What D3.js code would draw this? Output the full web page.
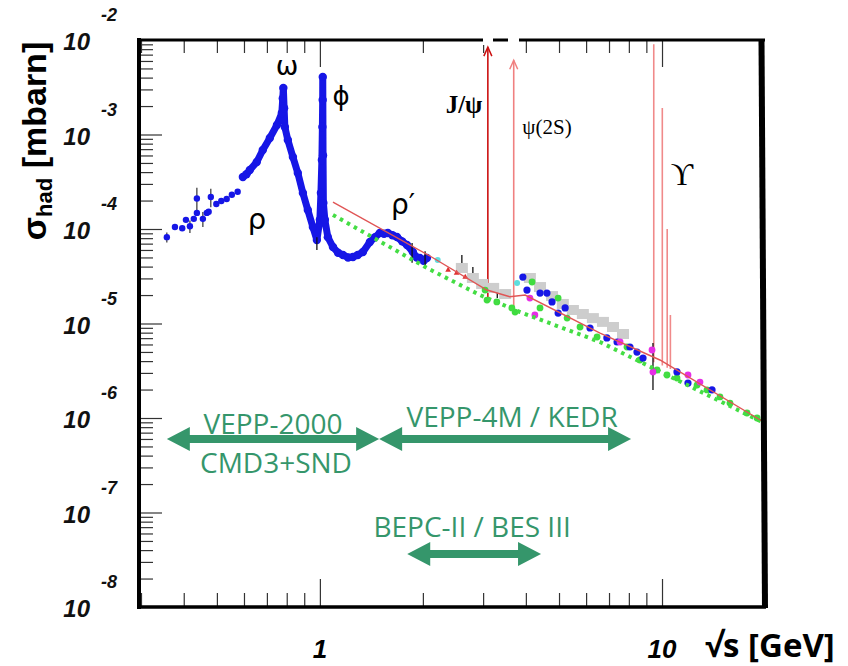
<!DOCTYPE html>
<html>
<head>
<meta charset="utf-8">
<script src="https://cdn.jsdelivr.net/npm/d3@7"></script>
<style>
  body { margin: 0; background: #fff; }
  svg { font-family: "Liberation Sans", Arial, sans-serif; }
</style>
</head>
<body>
<svg id="chart" width="848" height="666"></svg>
<script>
// sqrt(s) in GeV, sigma in mbarn
const lowE     = [0.357, 0.377, 0.396, 0.406, 0.417, 0.428, 0.437, 0.437, 0.455, 0.467, 0.473, 0.480, 0.498, 0.515, 0.534, 0.553, 0.575]
const lowSigma = [8.2e-5, 1.05e-4, 1.02e-4, 1.25e-4, 1.07e-4, 1.28e-4, 1.48e-4, 2.1e-4, 1.28e-4, 1.48e-4, 1.52e-4, 2.18e-4, 1.84e-4, 1.98e-4, 2.08e-4, 2.3e-4, 2.48e-4]
const lowErr   = [0.12, 0, 0, 0, 0.15, 0, 0, 0.3, 0.18, 0, 0, 0.22, 0, 0, 0, 0, 0]

const resE     = [0.5955, 0.610, 0.624, 0.654, 0.681, 0.714, 0.749, 0.774, 0.779, 0.782, 0.786, 0.790, 0.806, 0.834, 0.862, 0.892, 0.922, 0.954, 0.980,
                  1.000, 1.007, 1.0136, 1.017, 1.019, 1.0195, 1.0215, 1.0238, 1.034, 1.055, 1.092, 1.130, 1.168, 1.209, 1.249, 1.290, 1.336, 1.400,
                  1.450, 1.497, 1.540, 1.580, 1.630, 1.680, 1.740, 1.797, 1.870, 1.920, 1.960, 2.010, 2.055]
const resSigma = [3.55e-4, 3.8e-4, 4.21e-4, 5.12e-4, 6.86e-4, 9.18e-4, 1.26e-3, 1.69e-3, 2.4e-3, 3.1e-3, 1.9e-3, 1.2e-3, 8.75e-4, 5.78e-4, 3.92e-4, 2.4e-4, 1.59e-4, 1.05e-4, 7.65e-5,
                  1.25e-4, 2.4e-4, 5.37e-4, 1.2e-3, 2.32e-3, 4.07e-3, 6e-4, 1.88e-4, 1.25e-4, 8.2e-5, 6.45e-5, 5.6e-5, 5.31e-5, 5.0e-5, 5.06e-5, 5.3e-5, 5.71e-5, 7.28e-5,
                  8.2e-5, 9.08e-5, 8.9e-5, 9.08e-5, 8.6e-5, 8.22e-5, 7.4e-5, 6.78e-5, 5.71e-5, 5.0e-5, 4.93e-5, 4.6e-5, 4.93e-5]

const grayE     = [2.60, 2.80, 2.98, 3.21, 3.48, 4.11, 4.40, 4.77, 5.13, 5.49, 5.87, 6.28, 6.72, 7.19, 7.69]
const graySigma = [3.87e-5, 3.03e-5, 2.62e-5, 2.38e-5, 2.05e-5, 3.03e-5, 2.43e-5, 1.95e-5, 1.61e-5, 1.39e-5, 1.26e-5, 1.14e-5, 1.04e-5, 9.18e-6, 7.74e-6]

const greenE     = [3.04, 3.08, 3.29, 3.64, 3.72, 4.17, 4.40, 4.97, 5.28, 5.76, 6.46, 7.90, 8.62, 9.67, 10.34, 11.06, 12.66, 13.54, 14.77, 15.80, 17.72, 18.96]
const greenSigma = [2.26e-5, 1.77e-5, 1.69e-5, 1.46e-5, 1.32e-5, 2.75e-5, 1.46e-5, 1.86e-5, 1.14e-5, 9.18e-6, 7.2e-6, 5.64e-6, 4.11e-6, 3.22e-6, 2.85e-6, 2.65e-6, 2.23e-6, 1.98e-6, 1.67e-6, 1.44e-6, 1.13e-6, 1.0e-6]

const blueE     = [3.92, 4.03, 4.40, 4.61, 4.77, 4.97, 5.21, 6.16, 6.90, 7.39, 8.06, 8.45, 8.80, 11.06, 11.91, 14.0]
const blueSigma = [3.1e-5, 2.26e-5, 2.1e-5, 2.1e-5, 1.69e-5, 1.29e-5, 1.46e-5, 8.96e-6, 7.03e-6, 6.37e-6, 5.64e-6, 4.99e-6, 4.31e-6, 3.07e-6, 2.34e-6, 1.98e-6]

const magentaE     = [4.11, 4.25, 7.54, 9.35, 9.41, 11.91, 12.91]
const magentaSigma = [1.86e-5, 1.23e-5, 6.37e-6, 5.24e-6, 3.07e-6, 2.85e-6, 2.4e-6]

const cyanE     = [2.21, 3.77]
const cyanSigma = [4.7e-5, 2.68e-5]

const redPtE     = [2.37, 2.51, 2.66]
const redPtSigma = [3.68e-5, 3.42e-5, 3.1e-5]

const barE  = [0.980, 1.86, 2.03, 2.60, 2.80, 3.30, 9.41]
const barLo = [6.0e-5, 4.4e-5, 3.9e-5, 3.51e-5, 2.69e-5, 1.86e-5, 1.98e-6]
const barHi = [8.2e-5, 7.1e-5, 5.8e-5, 5.31e-5, 3.96e-5, 2.62e-5, 6.22e-6]

const qcdE     = [1.092, 2.097, 3.078, 3.59, 3.98, 6.59, 9.86, 19.6]
const qcdSigma = [1.93e-4, 5.18e-5, 2.26e-5, 1.92e-5, 2.0e-5, 7.93e-6, 4.11e-6, 9.3e-7]

const dotE     = [1.092, 2.055, 2.937, 3.85, 6.59, 19.6]
const dotSigma = [1.41e-4, 3.87e-5, 2.0e-5, 1.32e-5, 6.37e-6, 9.1e-7]

const upsE    = [9.46, 10.02, 10.355, 10.58]
const upsTop  = [9e-3, 1.91e-3, 1.0e-4, 1.23e-5]
const upsBase = [3.9e-6, 3.6e-6, 3.4e-6, 3.3e-6]

const psiE    = [3.097, 3.686]
const psiTop  = [8.4e-3, 6.1e-3]
const psiBase = [1.9e-5, 1.5e-5]
const psiColor = ['#cc1111', '#f08080']

const facilityNames = ['VEPP-2000', 'VEPP-4M / KEDR', 'BEPC-II / BES III']
const facilityFrom  = [0.357, 1.49, 1.80]
const facilityTo    = [1.49, 8.12, 4.43]
const facilityLevel = [6.0e-7, 6.0e-7, 3.64e-8]

const xMajor = [1, 10]
const xMinor = [0.3, 0.4, 0.5, 0.6, 0.7, 0.8, 0.9, 2, 3, 4, 5, 6, 7, 8, 9]
const xLabels = ['1', '10']
const yExps = [-2, -3, -4, -5, -6, -7, -8]
const yMantissas = [2, 3, 4, 5, 6, 7, 8, 9]

const svg = d3.select('#chart')
const x = d3.scaleLog().domain([0.296, 20]).range([139, 765])
const y = d3.scaleLog().domain([1e-8, 1e-2]).range([607, 40])
const green = '#35966b'
const blue = '#1616e6'

const zip = (a, b) => a.map((v, i) => [v, b[i]])

// resonance spikes
svg.append('g').selectAll('line')
  .data(upsE)
  .join('line')
    .attr('x1', d => x(d)).attr('x2', d => x(d))
    .attr('y1', (d, i) => y(upsBase[i])).attr('y2', (d, i) => y(upsTop[i]))
    .attr('stroke', '#f08a8a').attr('stroke-width', 1.6)

const psi = svg.append('g').selectAll('g')
  .data(psiE)
  .join('g')
psi.append('line')
  .attr('x1', d => x(d)).attr('x2', d => x(d))
  .attr('y1', (d, i) => y(psiBase[i])).attr('y2', (d, i) => y(psiTop[i]))
  .attr('stroke', (d, i) => psiColor[i]).attr('stroke-width', 1.6)
psi.append('path')
  .attr('d', (d, i) => `M${x(d) - 4},${y(psiTop[i]) + 9}L${x(d)},${y(psiTop[i])}L${x(d) + 4},${y(psiTop[i]) + 9}`)
  .attr('fill', 'none')
  .attr('stroke', (d, i) => psiColor[i]).attr('stroke-width', 1.5)

// blue band rho / omega / phi / rho'
const bandLine = d3.line().x(d => x(d[0])).y(d => y(d[1]))
svg.append('path')
  .attr('d', bandLine(zip(resE, resSigma)))
  .attr('fill', 'none').attr('stroke', blue)
  .attr('stroke-width', 7).attr('stroke-linejoin', 'round').attr('stroke-linecap', 'round')
svg.append('g').selectAll('circle')
  .data(zip(resE, resSigma))
  .join('circle')
    .attr('cx', d => x(d[0])).attr('cy', d => y(d[1])).attr('r', 4.2)
    .attr('fill', blue)

// error bars
svg.append('g').selectAll('line')
  .data(barE)
  .join('line')
    .attr('x1', d => x(d)).attr('x2', d => x(d))
    .attr('y1', (d, i) => y(barLo[i])).attr('y2', (d, i) => y(barHi[i]))
    .attr('stroke', '#111').attr('stroke-width', 1.3)

const low = svg.append('g')
low.selectAll('line')
  .data(lowE.map((e, i) => [e, lowSigma[i], lowErr[i]]).filter(d => d[2] > 0))
  .join('line')
    .attr('x1', d => x(d[0])).attr('x2', d => x(d[0]))
    .attr('y1', d => y(d[1] * (1 - d[2]))).attr('y2', d => y(d[1] * (1 + d[2])))
    .attr('stroke', '#222').attr('stroke-width', 1.1)
low.selectAll('circle')
  .data(zip(lowE, lowSigma))
  .join('circle')
    .attr('cx', d => x(d[0])).attr('cy', d => y(d[1])).attr('r', 3.2)
    .attr('fill', blue)

// high energy data
svg.append('g').selectAll('rect')
  .data(zip(grayE, graySigma))
  .join('rect')
    .attr('x', d => x(d[0]) - 6).attr('y', d => y(d[1]) - 5)
    .attr('width', 12).attr('height', 10)
    .attr('fill', '#cdcdcd')

const dots = (es, ss, color, r) => svg.append('g').selectAll('circle')
  .data(zip(es, ss))
  .join('circle')
    .attr('cx', d => x(d[0])).attr('cy', d => y(d[1])).attr('r', r)
    .attr('fill', color)

dots(greenE, greenSigma, '#3fdc3f', 3.4)
dots(blueE, blueSigma, blue, 3.6)
dots(magentaE, magentaSigma, '#e62ee6', 3.4)
dots(cyanE, cyanSigma, '#5fdede', 3)

svg.append('g').selectAll('path')
  .data(zip(redPtE, redPtSigma))
  .join('path')
    .attr('d', d3.symbol(d3.symbolTriangle, 14))
    .attr('transform', d => `translate(${x(d[0])},${y(d[1])})`)
    .attr('fill', '#e03030')

// QCD line and dotted estimate
svg.append('path')
  .attr('d', bandLine(zip(dotE, dotSigma)))
  .attr('fill', 'none').attr('stroke', '#44dd44')
  .attr('stroke-width', 4).attr('stroke-dasharray', '3.5,4.5')
svg.append('path')
  .attr('d', bandLine(zip(qcdE, qcdSigma)))
  .attr('fill', 'none').attr('stroke', '#e05555').attr('stroke-width', 1.4)

// axes
const ticks = (axis, values, size, tx, ty) => svg.append('g')
  .attr('transform', `translate(${tx},${ty})`)
  .call(axis.tickValues(values).tickSize(size).tickFormat(''))
  .call(g => g.select('.domain').remove())
  .call(g => g.selectAll('line').attr('stroke', '#333').attr('stroke-width', 1.2))

const yMinor = yExps.slice(1).flatMap(e => yMantissas.map(m => m * Math.pow(10, e)))
const yMajor = yExps.map(e => Math.pow(10, e))

ticks(d3.axisTop(x), xMinor, 14, 0, 607)
ticks(d3.axisTop(x), xMajor, 28, 0, 607)
ticks(d3.axisBottom(x), xMinor, 13, 0, 40)
ticks(d3.axisBottom(x), xMajor, 27, 0, 40)
ticks(d3.axisRight(y), yMinor, 14, 139, 0)
ticks(d3.axisRight(y), yMajor.slice(1, -1), 23, 139, 0)

// white gaps on the top frame where the arrows cross it
svg.append('g').selectAll('rect')
  .data(psiE)
  .join('rect')
    .attr('x', d => x(d) - 5).attr('y', 36).attr('width', 10).attr('height', 9)
    .attr('fill', '#fff')

const frame = svg.append('g').attr('stroke', '#000')
frame.append('line').attr('x1', 139).attr('x2', 139).attr('y1', 38).attr('y2', 609).attr('stroke-width', 4)
frame.append('line').attr('x1', 137).attr('x2', 766).attr('y1', 607).attr('y2', 607).attr('stroke-width', 3.5)
frame.append('line').attr('x1', 137).attr('x2', 483).attr('y1', 40).attr('y2', 40).attr('stroke-width', 3)
frame.append('line').attr('x1', 493).attr('x2', 508).attr('y1', 40).attr('y2', 40).attr('stroke-width', 3)
frame.append('line').attr('x1', 519).attr('x2', 765).attr('y1', 40).attr('y2', 40).attr('stroke-width', 3)
frame.append('line').attr('x1', 761.5).attr('x2', 765).attr('y1', 40).attr('y2', 608).attr('stroke-width', 6)

// tick labels
const yl = svg.append('g').attr('font-weight', 'bold').attr('font-style', 'italic').attr('fill', '#111')
yl.selectAll('text.base')
  .data(yExps)
  .join('text')
    .attr('class', 'base')
    .attr('x', 90).attr('y', d => y(Math.pow(10, d)) + 10)
    .attr('text-anchor', 'end').attr('font-size', 24)
    .text('10')
yl.selectAll('text.exp')
  .data(yExps)
  .join('text')
    .attr('class', 'exp')
    .attr('x', 101).attr('y', d => y(Math.pow(10, d)) - 19)
    .attr('font-size', 18)
    .text(d => d)

svg.append('g').selectAll('text')
  .data(xMajor)
  .join('text')
    .attr('x', d => x(d)).attr('y', 658)
    .attr('text-anchor', 'middle')
    .attr('font-size', 26).attr('font-weight', 'bold').attr('font-style', 'italic')
    .text((d, i) => xLabels[i])

svg.append('text')
  .attr('x', 705).attr('y', 657)
  .attr('font-size', 33).attr('font-weight', 'bold')
  .style('font-family', '"Open Sans", "DejaVu Sans", sans-serif')
  .text('√s [GeV]')

const yTitle = svg.append('text')
  .attr('transform', 'translate(46,141) rotate(-90)')
  .attr('text-anchor', 'middle')
  .attr('font-size', 34).attr('font-weight', 'bold')
yTitle.append('tspan').text('σ')
yTitle.append('tspan').attr('font-size', 22).attr('dy', 6).text('had')
yTitle.append('tspan').attr('dy', -6).text(' [mbarn]')

// particle labels
const sans = '"DejaVu Sans", sans-serif'
const serif = '"Liberation Serif", "DejaVu Serif", serif'
const particles = [
  { t: 'ω', x: 287, y: 75, size: 27, font: sans },
  { t: 'ϕ', x: 341, y: 105, size: 26, font: sans },
  { t: 'ρ', x: 257, y: 229, size: 29, font: sans },
  { t: 'ρ′', x: 403, y: 214, size: 28, font: sans },
  { t: 'J/ψ', x: 464, y: 113, size: 25, font: serif, bold: true },
  { t: 'ψ(2S)', x: 547, y: 134, size: 21, font: serif },
  { t: 'ϒ', x: 682, y: 185, size: 31, font: serif }
]
svg.append('g').selectAll('text')
  .data(particles)
  .join('text')
    .attr('x', d => d.x).attr('y', d => d.y)
    .attr('text-anchor', 'middle')
    .attr('font-size', d => d.size)
    .attr('font-weight', d => d.bold ? 'bold' : 'normal')
    .style('font-family', d => d.font)
    .text(d => d.t)

// facility double arrows
const arrowPath = (x1, x2, yy) => {
  const hl = 23, hh = 12, sw = 4
  return `M${x1},${yy}L${x1 + hl},${yy - hh}L${x1 + hl},${yy - sw}L${x2 - hl},${yy - sw}L${x2 - hl},${yy - hh}` +
    `L${x2},${yy}L${x2 - hl},${yy + hh}L${x2 - hl},${yy + sw}L${x1 + hl},${yy + sw}L${x1 + hl},${yy + hh}Z`
}
svg.append('g').selectAll('path')
  .data(facilityNames)
  .join('path')
    .attr('d', (d, i) => arrowPath(x(facilityFrom[i]), x(facilityTo[i]), y(facilityLevel[i])))
    .attr('fill', green)

const labelDx = [0, 7, -2]
const labelDy = [-5, -12, -17]
const fl = svg.append('g').attr('fill', green)
fl.selectAll('text')
  .data(facilityNames)
  .join('text')
    .attr('x', (d, i) => (x(facilityFrom[i]) + x(facilityTo[i])) / 2 + labelDx[i])
    .attr('y', (d, i) => y(facilityLevel[i]) + labelDy[i])
    .attr('text-anchor', 'middle')
    .attr('font-size', 28)
    .style('font-family', '"Open Sans", sans-serif')
    .text(d => d)
fl.append('text')
  .attr('x', (x(facilityFrom[0]) + x(facilityTo[0])) / 2 + 3)
  .attr('y', y(facilityLevel[0]) + 34)
  .attr('text-anchor', 'middle')
  .attr('font-size', 28)
  .style('font-family', '"Open Sans", sans-serif')
  .text('CMD3+SND')
</script>
</body>
</html>
